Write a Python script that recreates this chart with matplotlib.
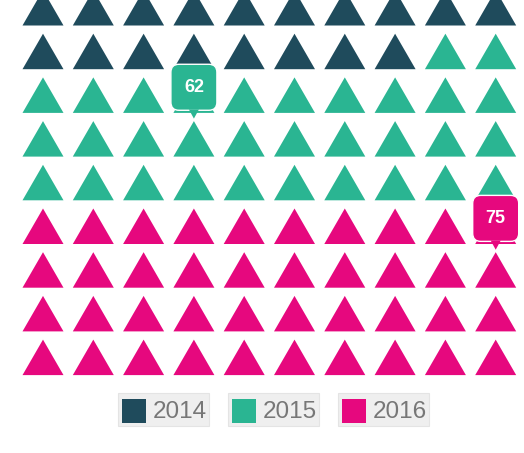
import numpy             as np
import matplotlib.pyplot as plt
from matplotlib.patches import Polygon, FancyBboxPatch, Rectangle

### DATA ###
years   = ['2014', '2015', '2016']
counts  = [18, 32, 40]
colors  = ['#1f4b5c', '#2ab592', '#e6087e']
n_cols  = 10

# tooltips: (label, grid index of the triangle it sits on)
tip_labels  = ['62', '75']
tip_indices = [23, 59]

### LAYOUT ###
W, H = 524, 453
col_px, col_step = 43.0, 50.3   # centre of first column, spacing (px)
row_px, row_step = 25.5, 43.7   # base of first row, spacing (px)
half_w = 20.5 / col_step
tri_h  = 35.5 / row_step

fig = plt.figure(figsize=(W / 100, H / 100), dpi=100)
ax = fig.add_axes([0, 0, 1, 1])
ax.set_xlim(-col_px / col_step, (W - col_px) / col_step)
ax.set_ylim((H - row_px) / row_step, -row_px / row_step)
ax.axis('off')

# one colour per triangle, filled row by row
cell_colors = []
for c, n in zip(colors, counts):
	cell_colors += [c] * n

for i, c in enumerate(cell_colors):
	col, row = i % n_cols, i // n_cols
	tri = Polygon([(col - half_w, row), (col + half_w, row), (col, row - tri_h)],
	              closed=True, facecolor=c, edgecolor='none')
	ax.add_patch(tri)

# tooltips
box_w = 46.0 / col_step
box_h = 46.0 / row_step
for label, idx in zip(tip_labels, tip_indices):
	col, row = idx % n_cols, idx // n_cols
	c = cell_colors[idx]
	bottom = row - 0.06
	box = FancyBboxPatch((col - box_w / 2, bottom - box_h), box_w, box_h,
	                     boxstyle='round,pad=0,rounding_size=0.16',
	                     mutation_aspect=col_step / row_step,
	                     facecolor=c, edgecolor='white', linewidth=1.0, zorder=3)
	ax.add_patch(box)
	ptr = Polygon([(col - 0.1, bottom - 0.02), (col + 0.1, bottom - 0.02), (col, row + 0.13)],
	              closed=True, facecolor=c, edgecolor='none', zorder=4)
	ax.add_patch(ptr)
	ax.text(col, bottom - box_h / 2, label, color='white', fontsize=13,
	        fontweight='bold', family='Liberation Sans', ha='center', va='center', zorder=5)

# legend (pixel coordinates)
lax = fig.add_axes([0, 0, 1, 1])
lax.set_xlim(0, W)
lax.set_ylim(H, 0)
lax.axis('off')
lax.patch.set_alpha(0)

item_x = [118, 228, 338]
for x, year, c in zip(item_x, years, colors):
	lax.add_patch(Rectangle((x, 393), 91, 33, facecolor='#efefef', edgecolor='#e4e4e4', linewidth=0.8))
	lax.add_patch(Rectangle((x + 4, 399), 24, 24, facecolor=c, edgecolor='none'))
	lax.text(x + 35, 412, year, color='#777777', fontsize=17.5,
	         family='Liberation Sans', ha='left', va='center')

fig.savefig('out.png', dpi=100)
